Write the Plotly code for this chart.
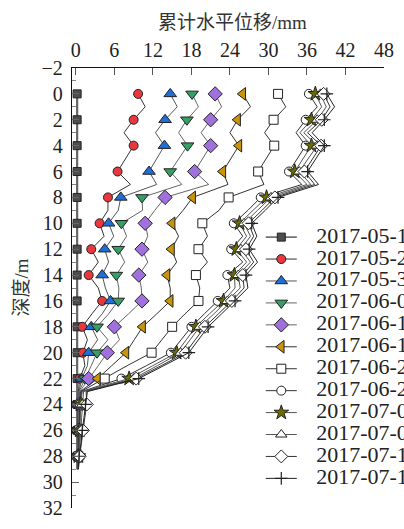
import plotly.graph_objects as go

# ---------------- data ----------------
depth = list(range(0, 30))  # m, measurements every 1 m, markers every 2 m

dates = ["2017-05-15", "2017-05-25", "2017-05-31", "2017-06-05", "2017-06-10", "2017-06-15",
         "2017-06-20", "2017-06-25", "2017-07-01", "2017-07-05", "2017-07-10", "2017-07-15"]

s01 = [0.2] * 30
s02 = [9.7, 10.8, 9.0, 7.5, 9.0, 7.8, 6.5, 8.5, 5.0, 5.0, 3.7, 4.4, 2.4, 3.5, 2.0, 3.5, 4.1, 2.5,
       1.0, 1.8, 1.1, 1.4, 0.6, 0.4, 0.3, 0.3, 0.3, 0.3, 0.3, 0.3]
s03 = [14.7, 15.8, 13.9, 12.4, 13.8, 12.6, 11.4, 12.6, 7.0, 6.6, 5.1, 5.9, 4.5, 5.1, 4.1, 4.6, 5.4, 4.1,
       2.4, 3.4, 2.0, 1.8, 0.9, 0.5, 0.4, 0.4, 0.4, 0.3, 0.3, 0.3]
s04 = [18.1, 19.1, 17.3, 16.0, 17.4, 16.0, 14.7, 16.5, 10.3, 10.4, 7.1, 7.9, 6.6, 7.6, 6.3, 6.7, 6.6, 5.1,
       3.3, 5.0, 3.3, 2.4, 1.4, 0.5, 0.4, 0.4, 0.4, 0.3, 0.3, 0.3]
s05 = [21.7, 22.7, 21.0, 19.5, 21.0, 19.7, 18.5, 20.7, 13.9, 12.3, 10.8, 11.2, 10.3, 11.2, 9.8, 10.2, 10.3, 8.2,
       6.0, 6.8, 4.9, 3.5, 2.0, 0.6, 0.5, 0.5, 0.4, 0.4, 0.3, 0.3]
s06 = [26.0, 27.2, 25.2, 24.0, 25.4, 24.1, 22.9, 23.7, 18.2, 16.7, 15.0, 16.0, 14.9, 15.7, 14.2, 14.7, 14.7, 12.6,
       10.4, 9.1, 7.8, 5.6, 3.4, 0.7, 0.6, 0.5, 0.5, 0.4, 0.4, 0.3]
s07 = [31.5, 32.7, 30.8, 29.4, 30.9, 29.6, 28.4, 29.3, 23.8, 22.3, 19.7, 20.5, 19.1, 20.5, 18.7, 19.3, 19.1, 17.0,
       15.0, 13.4, 11.8, 8.0, 4.5, 0.8, 0.7, 0.6, 0.5, 0.5, 0.4, 0.3]
s08 = [36.3, 37.6, 35.8, 34.3, 35.8, 34.5, 33.2, 35.2, 28.8, 26.8, 24.6, 26.0, 24.2, 26.0, 23.6, 24.0, 22.1, 20.0,
       18.0, 16.4, 14.8, 11.0, 7.1, 0.9, 0.6, 0.6, 0.6, 0.5, 0.4, 0.3]
s09 = [37.3, 38.3, 36.7, 34.9, 36.7, 35.4, 34.1, 36.0, 29.7, 27.6, 25.5, 26.6, 25.0, 26.6, 24.7, 24.8, 23.0, 20.8,
       18.7, 17.2, 15.7, 12.0, 8.3, 1.0, 0.7, 0.7, 0.6, 0.5, 0.4, 0.3]
s10 = [38.1, 39.0, 37.6, 35.5, 37.6, 36.2, 34.8, 36.6, 30.4, 28.3, 26.2, 27.2, 25.7, 27.2, 25.3, 25.6, 23.6, 21.5,
       19.3, 17.8, 16.3, 12.7, 9.0, 1.2, 1.0, 0.9, 0.8, 0.6, 0.4, 0.3]
s11 = [38.6, 39.6, 38.3, 36.1, 38.2, 36.9, 35.6, 37.2, 31.0, 29.0, 26.9, 27.7, 26.5, 27.7, 26.0, 26.2, 24.3, 22.2,
       20.1, 18.6, 17.1, 13.3, 9.4, 1.6, 1.7, 1.4, 1.1, 0.8, 0.6, 0.4]
s12 = [39.1, 40.3, 38.7, 36.8, 38.7, 37.4, 36.1, 37.8, 31.5, 29.5, 27.4, 28.2, 27.0, 28.3, 26.5, 26.8, 24.8, 22.7,
       20.6, 19.1, 17.6, 13.7, 9.8, 1.8, 1.5, 1.3, 1.0, 0.8, 0.5, 0.4]

series = [s01, s02, s03, s04, s05, s06, s07, s08, s09, s10, s11, s12]

x_ticks = [0, 6, 12, 18, 24, 30, 36, 42, 48]
y_ticks = list(range(-2, 33, 2))

# ---------------- styles ----------------
styles = [
    dict(symbol="square", size=8, color="#4d4d4d", lc="#666666", lw=2.2),
    dict(symbol="circle", size=9, color="#e8383d", lc="#333333", lw=1),
    dict(symbol="triangle-up", size=11, color="#1f6fd8", lc="#555555", lw=1),
    dict(symbol="triangle-down", size=11, color="#34a064", lc="#666666", lw=1),
    dict(symbol="diamond", size=11, color="#a070dc", lc="#666666", lw=1),
    dict(symbol="triangle-left", size=11, color="#c9930a", lc="#333333", lw=1),
    dict(symbol="square", size=9, color="#ffffff", lc="#333333", lw=1),
    dict(symbol="circle", size=9, color="#ffffff", lc="#333333", lw=1),
    dict(symbol="star", size=11, color="#6b6b00", lc="#555555", lw=1),
    dict(symbol="triangle-up", size=10, color="#ffffff", lc="#555555", lw=1),
    dict(symbol="diamond", size=10, color="#ffffff", lc="#333333", lw=1),
    dict(symbol="cross-thin", size=9, color="#222222", lc="#222222", lw=1),
]

SERIF = "Liberation Serif, Times New Roman, serif"
TITLE_FONT = "Liberation Serif, Noto Sans CJK SC, serif"

fig = go.Figure()

show = [1 if (d % 2 == 0 and d <= 28) else 0 for d in depth]

for vals, st in zip(series, styles):
    mline = dict(color="#222222", width=1)
    if st["symbol"] == "cross-thin":
        mline = dict(color="#222222", width=1.2)
    fig.add_trace(go.Scatter(
        x=vals, y=depth, mode="lines+markers", showlegend=False,
        line=dict(color=st["lc"], width=st["lw"]),
        marker=dict(symbol=st["symbol"], size=st["size"], color=st["color"],
                    opacity=show, line=mline),
        hoverinfo="skip"))

# ---------------- custom legend (clipped at the figure edge like the reference) ----------------
LEG_LINE = [200, 216, 232]   # px along overlay x axis (0..322 = plot width)
LEG_TEXT_X = 252
for i, st in enumerate(styles):
    mline = dict(color="#222222", width=1)
    if st["symbol"] == "cross-thin":
        mline = dict(color="#222222", width=1.2)
    fig.add_trace(go.Scatter(
        x=LEG_LINE, y=[i, i, i], xaxis="x2", yaxis="y2", mode="lines+markers", showlegend=False,
        line=dict(color=st["lc"], width=min(st["lw"], 1.6)),
        marker=dict(symbol=st["symbol"], size=st["size"], color=st["color"],
                    opacity=[0, 1, 0], line=mline),
        hoverinfo="skip", cliponaxis=False))
fig.add_trace(go.Scatter(
    x=[LEG_TEXT_X] * len(dates), y=list(range(len(dates))), xaxis="x2", yaxis="y2",
    mode="text", text=dates, textposition="middle right",
    textfont=dict(family=SERIF, size=22, color="#222222"),
    showlegend=False, hoverinfo="skip", cliponaxis=False))

fig.update_layout(
    width=404, height=529,
    margin=dict(l=72, r=10, t=68, b=10),
    paper_bgcolor="white", plot_bgcolor="white",
    showlegend=False,
    xaxis=dict(side="top", range=[-0.6, 48], tickvals=x_ticks, ticktext=[str(v) for v in x_ticks],
               ticks="inside", ticklen=7, tickcolor="#555555", tickwidth=1.2,
               showline=True, linecolor="#111111", linewidth=1.3,
               showgrid=False, zeroline=False, ticklabeloverflow="allow", ticklabelstandoff=2,
               tickfont=dict(family=SERIF, size=20, color="#222222")),
    yaxis=dict(range=[32, -2], tickvals=y_ticks,
               ticks="inside", ticklen=7, tickcolor="#666666", tickwidth=1.2,
               minor=dict(dtick=1, tick0=0, ticks="inside", ticklen=4, tickcolor="#888888"),
               showline=True, linecolor="#111111", linewidth=1.3,
               showgrid=False, zeroline=False, ticklabeloverflow="allow", ticklabelstandoff=4,
               tickfont=dict(family=SERIF, size=20, color="#222222")),
    xaxis2=dict(overlaying="x", anchor="y2", range=[0, 322], visible=False),
    yaxis2=dict(overlaying="y", anchor="x2", range=[12.35, -7.71], visible=False),
    annotations=[
        dict(text="累计水平位移/mm", xref="paper", yref="paper", x=0.514, y=1.103,
             xanchor="center", yanchor="middle", showarrow=False,
             font=dict(family=TITLE_FONT, size=19, color="#333333")),
        dict(text="深度/m", xref="paper", yref="paper", x=-0.165, y=0.5, textangle=-90,
             xanchor="center", yanchor="middle", showarrow=False,
             font=dict(family=TITLE_FONT, size=19, color="#333333")),
    ],
)

fig.write_html("out.html", config={"displayModeBar": False},
               post_script="document.body.style.margin='0';")
